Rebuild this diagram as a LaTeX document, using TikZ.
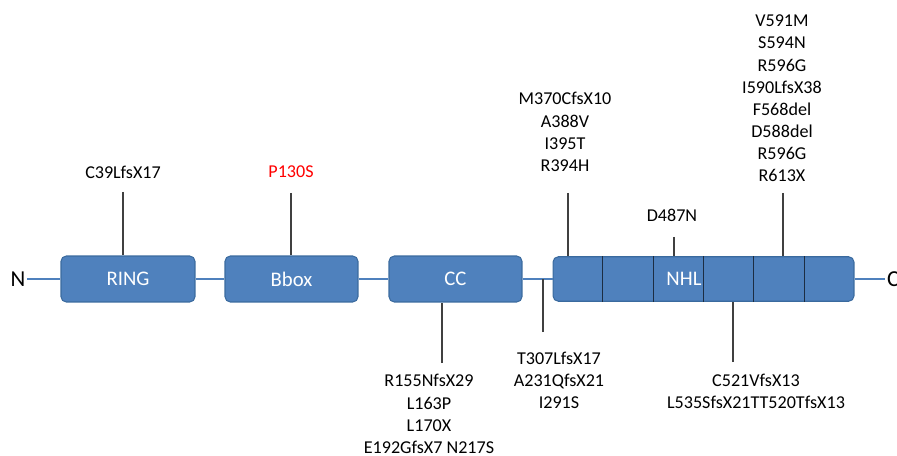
\documentclass[tikz,border=0pt]{standalone}
\usepackage{fontspec}
\setmainfont{Carlito}
\usetikzlibrary{calc,positioning}
\definecolor{protblue}{HTML}{4F81BD}
\definecolor{protedge}{HTML}{3A6A9E}
\definecolor{mutred}{HTML}{FF0000}
\tikzset{
  domainbox/.style={draw=protedge, fill=protblue, line width=0.6pt, rounded corners=3pt, minimum height=0.92cm, inner sep=0pt, text=white, font=\fontsize{11.8}{14}\selectfont},
  domainname/.style={inner sep=0pt, text=white, font=\fontsize{11.8}{14}\selectfont},
  backbone/.style={draw=protblue, line width=1.2pt},
  stem/.style={draw=black!75, line width=0.6pt},
  divider/.style={draw=black!65!protblue, line width=0.5pt},
  mutlabel/.style={align=center, inner sep=0pt, font=\fontsize{10.3}{12.6}\selectfont},
  terminus/.style={inner sep=1pt, font=\fontsize{13}{15}\selectfont}
}

\begin{document}
\begin{tikzpicture}[x=0.02cm, y=-0.02cm]
  \useasboundingbox (0,0) rectangle (897,456);

  % domains
  \node[domainbox, minimum width=2.68cm] (ring) at (128,279) {RING};
  \node[domainbox, minimum width=2.66cm] (bbox) at (291.5,279) {Bbox};
  \node[domainbox, minimum width=2.66cm] (cc) at (455.5,279) {CC};
  \node[domainbox, minimum width=6.02cm, minimum height=0.89cm] (nhl) at (703.5,279) {};
  \foreach \i in {1,...,5}
    \draw[divider] ($(nhl.north west)!\i/6!(nhl.north east)$) -- ($(nhl.south west)!\i/6!(nhl.south east)$);
  \node[domainname] (nhlname) at (684,279) {NHL};

  % termini and backbone
  \node[terminus] (nterm) at (18,279) {N};
  \node[terminus, anchor=west] (cterm) at (885,279) {C};
  \draw[backbone] (nterm) -- (ring);
  \draw[backbone] (ring) -- (bbox);
  \draw[backbone] (bbox) -- (cc);
  \draw[backbone] (cc) -- (nhl);
  \draw[backbone] (nhl) -- (cterm);

  % mutations
  \node[mutlabel] (ringmut) at (123,172) {C39LfsX17};
  \node[mutlabel, text=mutred] (bboxmut) at (291,172) {P130S};
  \node[mutlabel] (ccmut) at (429,414) {R155NfsX29\\L163P\\L170X\\E192GfsX7 N217S};
  \node[mutlabel] (linkmut) at (559,380) {T307LfsX17\\A231QfsX21\\I291S};
  \node[mutlabel] (nhlmutA) at (565,132) {M370CfsX10\\A388V\\I395T\\R394H};
  \node[mutlabel] (nhlmutB) at (672,215) {D487N};
  \node[mutlabel] (nhlmutC) at (782,98.5) {V591M\\S594N\\R596G\\I590LfsX38\\F568del\\D588del\\R596G\\R613X};
  \node[mutlabel] (nhlmutD) at (756,391) {C521VfsX13\\L535SfsX21TT520TfsX13};

  % stems
  \coordinate (ringtip) at (123,192);
  \coordinate (bboxtip) at (291,193);
  \coordinate (cctip) at (442,363);
  \coordinate (linktip) at (543,332);
  \coordinate (nhltipA) at (568,193);
  \coordinate (nhltipB) at (674,237);
  \coordinate (nhltipC) at (783,193);
  \coordinate (nhltipD) at (733,362);
  \draw[stem] (ringtip) -- (ringtip |- ring.north);
  \draw[stem] (bboxtip) -- (bboxtip |- bbox.north);
  \draw[stem] (cctip) -- (cctip |- cc.south);
  \draw[stem] (linktip) -- (linktip |- cc.east);
  \draw[stem] (nhltipA) -- (nhltipA |- nhl.north);
  \draw[stem] (nhltipB) -- (nhltipB |- nhl.north);
  \draw[stem] (nhltipC) -- (nhltipC |- nhl.north);
  \draw[stem] (nhltipD) -- (nhltipD |- nhl.south);
\end{tikzpicture}
\end{document}
